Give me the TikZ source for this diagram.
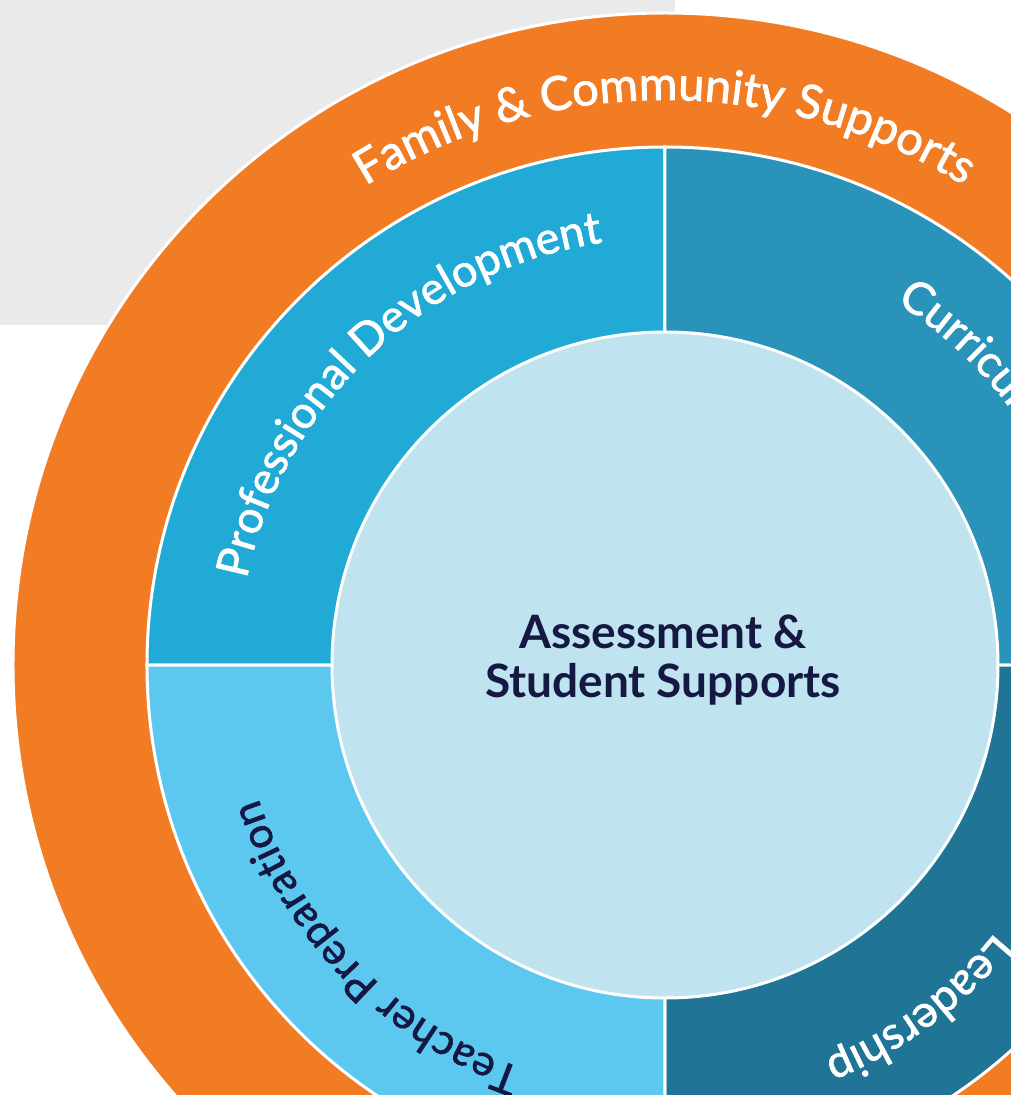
\documentclass[tikz,border=0pt]{standalone}
\usepackage{fontspec}
\setmainfont{Lato}
\newfontfamily\ringfamily[FakeBold=1.6]{Lato}
\usetikzlibrary{decorations.text}

\definecolor{backgray}{RGB}{234,234,234}
\definecolor{familyorange}{RGB}{242,124,36}
\definecolor{devblue}{RGB}{33,170,214}
\definecolor{currblue}{RGB}{42,147,186}
\definecolor{leadblue}{RGB}{32,117,150}
\definecolor{prepblue}{RGB}{92,200,240}
\definecolor{corecyan}{RGB}{191,228,239}
\definecolor{inknavy}{RGB}{20,24,66}

\newcommand{\ringfont}{\ringfamily\fontsize{45}{52}\selectfont}
\newcommand{\prepfont}{\ringfamily\fontsize{42.5}{50}\selectfont}
\newcommand{\outerfont}{\ringfamily\fontsize{47}{54}\selectfont}
\newcommand{\corefont}{\fontsize{46}{49}\selectfont\bfseries}

\begin{document}
\begin{tikzpicture}[x = 1pt, y = 1pt,
		ring/.style = {draw = white, line width = 3pt}]
	\useasboundingbox (-665,-430) rectangle (346,665);
	\clip (-665,-430) rectangle (346,665);

	\fill [backgray] (-665,665) rectangle (10,340);

	\begin{scope}
		\filldraw [ring, fill = familyorange] (0,0) circle [radius = 652];
		\filldraw [ring, fill = devblue] (0,0) -- (180:518) arc [start angle = 180, end angle = 90, radius = 518] -- cycle;
		\filldraw [ring, fill = currblue] (0,0) -- (90:518) arc [start angle = 90, end angle = 0, radius = 518] -- cycle;
		\filldraw [ring, fill = leadblue] (0,0) -- (360:518) arc [start angle = 360, end angle = 270, radius = 518] -- cycle;
		\filldraw [ring, fill = prepblue] (0,0) -- (270:518) arc [start angle = 270, end angle = 180, radius = 518] -- cycle;
		\filldraw [ring, fill = corecyan] (0,0) circle [radius = 333];
	\end{scope}

	\begin{scope}
		\path [decorate, decoration = {text along path, text align = fit to path,
			text = {|\outerfont\color{white}|Family {\&} Community Supports}}]
			(122:565) arc [start angle = 122, end angle = 58.5, radius = 565];
		\path [decorate, decoration = {text along path, text align = fit to path,
			text = {|\ringfont\color{white}|Professional Development}}]
			(168.4:427) arc [start angle = 168.4, end angle = 99, radius = 427];
		\path [decorate, decoration = {text along path, text align = left,
			text = {|\ringfont\color{white}|Curriculum}}]
			(57.5:430) arc [start angle = 57.5, end angle = -20, radius = 430];
		\path [decorate, decoration = {text along path, text align = fit to path,
			text = {|\ringfont\color{white}|Leadership}}]
			(321:425) arc [start angle = 321, end angle = 292.2, radius = 425];
		\path [decorate, decoration = {text along path, text align = fit to path,
			text = {|\prepfont\color{inknavy}|Teacher Preparation}}]
			(250.5:428) arc [start angle = 250.5, end angle = 198.2, radius = 428];
	\end{scope}

	\node [align = center, font = \corefont, text = inknavy] (core) at (-2,5) {Assessment \&\\Student Supports};
\end{tikzpicture}
\end{document}
